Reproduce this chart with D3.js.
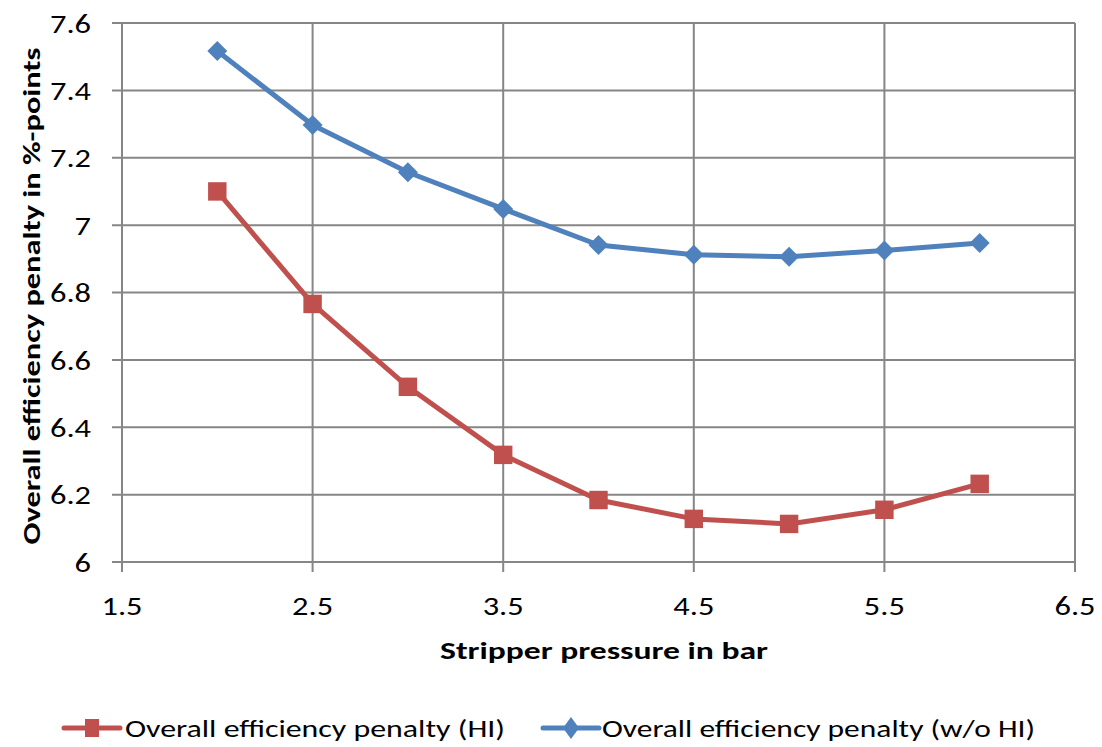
<!DOCTYPE html>
<html>
<head>
<meta charset="utf-8">
<script src="https://cdn.jsdelivr.net/npm/d3@7"></script>
<style>
  html, body { margin: 0; padding: 0; background: #fff; }
  svg { display: block; }
  text { font-family: Carlito, Lato, "Liberation Sans", sans-serif; fill: #000; }
</style>
</head>
<body>
<svg id="chart" width="1102" height="747"></svg>
<script>
// Stripper pressure (bar)
const pressures = [2, 2.5, 3, 3.5, 4, 4.5, 5, 5.5, 6];
// Overall efficiency penalty with heat integration (%-points)
const penaltyHI = [7.10, 6.766, 6.52, 6.318, 6.184, 6.128, 6.113, 6.155, 6.232];
// Overall efficiency penalty without heat integration (%-points)
const penaltyNoHI = [7.517, 7.297, 7.157, 7.048, 6.941, 6.912, 6.906, 6.925, 6.947];

const xTicks = [1.5, 2.5, 3.5, 4.5, 5.5, 6.5];
const yTicks = [6, 6.2, 6.4, 6.6, 6.8, 7, 7.2, 7.4, 7.6];
const seriesNames = ["Overall efficiency penalty (HI)", "Overall efficiency penalty (w/o HI)"];

const svg = d3.select("#chart");
const plotLeft = 122, plotRight = 1075, plotTop = 23, plotBottom = 562;

const x = d3.scaleLinear().domain([1.5, 6.5]).range([plotLeft, plotRight]);
const y = d3.scaleLinear().domain([6, 7.6]).range([plotBottom, plotTop]);

const gridColor = "#868686";

// widen tick labels slightly
function widen(sel, factor) {
  sel.each(function () {
    const w = this.getComputedTextLength();
    d3.select(this).attr("textLength", w * factor).attr("lengthAdjust", "spacingAndGlyphs");
  });
}

// horizontal grid lines with short outer ticks
svg.append("g").selectAll("line").data(yTicks).join("line")
  .attr("x1", plotLeft - 10).attr("x2", plotRight)
  .attr("y1", d => y(d)).attr("y2", d => y(d))
  .attr("stroke", gridColor).attr("stroke-width", 2);

// vertical grid lines with short outer ticks
svg.append("g").selectAll("line").data(xTicks).join("line")
  .attr("x1", d => x(d)).attr("x2", d => x(d))
  .attr("y1", plotTop).attr("y2", plotBottom + 10)
  .attr("stroke", gridColor).attr("stroke-width", 2);

// y tick labels
svg.append("g").selectAll("text").data(yTicks).join("text")
  .attr("x", 91).attr("y", d => y(d))
  .attr("dy", "0.36em")
  .attr("text-anchor", "end")
  .attr("font-size", 27)
  .text(d => d3.format("")(d))
  .call(widen, 1.2);

// x tick labels
svg.append("g").selectAll("text").data(xTicks).join("text")
  .attr("x", d => x(d)).attr("y", 605)
  .attr("dy", "0.36em")
  .attr("text-anchor", "middle")
  .attr("font-size", 27)
  .text(d => d3.format(".1f")(d))
  .call(widen, 1.2);

// axis titles
svg.append("text")
  .attr("x", 604).attr("y", 659)
  .attr("text-anchor", "middle")
  .attr("font-size", 25).attr("font-weight", "bold")
  .attr("textLength", 328).attr("lengthAdjust", "spacingAndGlyphs")
  .text("Stripper pressure in bar");

svg.append("text")
  .attr("transform", "translate(40,296) rotate(-90)")
  .attr("text-anchor", "middle")
  .attr("font-size", 25).attr("font-weight", "bold")
  .attr("textLength", 497).attr("lengthAdjust", "spacingAndGlyphs")
  .text("Overall efficiency penalty in %-points");

const line = d3.line().x(d => x(d[0])).y(d => y(d[1]));

const red = "#C0504D", blue = "#4F81BD";
const squareSym = d3.symbol().type(d3.symbolSquare).size(340);
const diamondPath = (w, h) => `M0,${-h}L${w},0L0,${h}L${-w},0Z`;
const rectPath = (w, h) => `M${-w},${-h}H${w}V${h}H${-w}Z`;

// series: with heat integration
const hiData = pressures.map((p, i) => [p, penaltyHI[i]]);
svg.append("path").datum(hiData)
  .attr("d", line).attr("fill", "none")
  .attr("stroke", red).attr("stroke-width", 5).attr("stroke-linejoin", "round");
svg.append("g").selectAll("path").data(hiData).join("path")
  .attr("transform", d => `translate(${x(d[0])},${y(d[1])})`)
  .attr("d", squareSym).attr("fill", red);

// series: without heat integration
const noHiData = pressures.map((p, i) => [p, penaltyNoHI[i]]);
svg.append("path").datum(noHiData)
  .attr("d", line).attr("fill", "none")
  .attr("stroke", blue).attr("stroke-width", 5).attr("stroke-linejoin", "round");
svg.append("g").selectAll("path").data(noHiData).join("path")
  .attr("transform", d => `translate(${x(d[0])},${y(d[1])})`)
  .attr("d", diamondPath(10, 10)).attr("fill", blue);

// legend
const legendY = 728;
const legend = [
  { name: seriesNames[0], color: red, x0: 64, textX: 125, width: 380, marker: rectPath(7, 9) },
  { name: seriesNames[1], color: blue, x0: 543, textX: 602, width: 433, marker: diamondPath(8, 11) }
];
legend.forEach(l => {
  svg.append("line")
    .attr("x1", l.x0).attr("x2", l.x0 + 56)
    .attr("y1", legendY).attr("y2", legendY)
    .attr("stroke", l.color).attr("stroke-width", 5)
    .attr("stroke-linecap", "round");
  svg.append("path")
    .attr("transform", `translate(${l.x0 + 28},${legendY})`)
    .attr("d", l.marker)
    .attr("fill", l.color);
  svg.append("text")
    .attr("x", l.textX).attr("y", legendY)
    .attr("dy", "0.36em")
    .attr("font-size", 25)
    .attr("textLength", l.width).attr("lengthAdjust", "spacingAndGlyphs")
    .text(l.name);
});
</script>
</body>
</html>
